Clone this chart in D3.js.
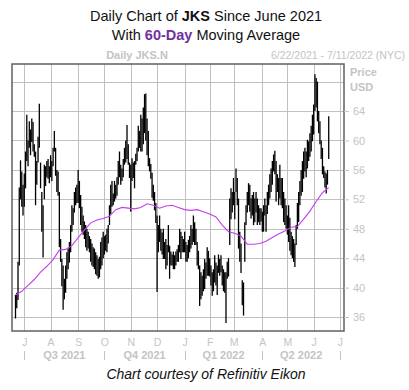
<!DOCTYPE html>
<html><head><meta charset="utf-8">
<script src="https://cdn.jsdelivr.net/npm/d3@7"></script>
<style>body{margin:0;background:#fff;} svg{display:block;}</style>
</head><body><svg id="c" width="409" height="390"></svg>
<script>
// ---- data ----
const highs = [
39.0,39.3,43.5,53.6,57.3,55.8,54.0,55.5,58.5,63.5,
60.0,62.6,61.5,63.0,62.5,59.5,58.5,57.2,60.5,65.0,
57.0,53.0,51.2,56.7,56.5,57.2,57.5,56.5,58.0,57.2,
59.0,61.3,59.0,56.0,55.8,53.0,46.6,43.9,43.0,41.2,
43.0,44.8,45.3,46.2,48.5,51.2,50.8,53.0,53.6,54.0,
56.0,54.5,52.6,51.0,49.8,49.0,48.5,48.0,47.6,47.0,
46.6,46.0,45.5,45.3,44.8,44.4,43.9,44.2,46.2,46.8,
47.6,47.0,47.2,48.0,48.5,51.2,54.0,54.5,52.8,54.5,
54.0,55.0,57.2,58.5,56.7,56.2,57.5,59.0,60.0,62.1,
59.5,57.0,56.7,57.6,57.0,57.2,58.2,59.0,62.0,61.3,
63.5,63.0,64.5,66.3,66.4,63.0,61.3,57.6,56.8,55.6,
54.0,53.0,51.5,49.8,48.5,49.8,48.0,47.5,48.0,46.2,
46.6,45.8,48.5,45.7,44.9,44.5,44.9,44.4,44.9,45.2,
45.8,48.0,47.6,47.0,46.6,47.6,46.2,45.8,46.5,47.0,
48.5,48.0,49.8,48.9,48.0,46.2,45.0,43.0,42.1,41.6,
42.5,43.9,43.4,45.5,45.0,44.0,43.0,42.1,42.5,44.4,
43.4,43.0,44.5,43.9,44.4,43.0,42.5,42.1,42.1,43.5,
44.0,52.1,53.5,53.0,54.9,53.0,56.2,54.9,52.1,47.6,
46.0,41.0,40.7,48.9,51.2,53.0,54.2,54.0,52.1,52.6,
53.0,52.1,53.0,52.1,51.2,50.8,50.8,50.3,51.2,52.1,
51.2,53.0,54.0,55.4,56.2,57.2,58.1,58.6,57.2,55.4,
54.9,56.7,54.9,54.9,53.0,52.1,51.2,49.8,51.2,49.5,
47.6,47.0,46.6,46.0,48.5,51.5,53.0,54.5,56.0,57.2,
58.5,59.0,58.5,60.1,59.9,61.0,62.0,63.5,64.9,69.0,
68.5,68.0,64.0,62.6,60.0,59.0,56.5,55.8,55.5,56.0,
63.3];
const lows = [
35.8,37.2,38.3,43.0,52.0,51.0,49.8,51.0,53.5,57.2,
56.5,59.0,58.0,59.8,58.5,57.8,51.2,54.0,57.0,59.0,
53.5,47.6,44.1,52.0,53.8,55.0,54.8,54.2,55.0,54.5,
56.5,58.5,55.2,53.0,52.5,45.5,43.5,40.2,37.0,38.4,
39.3,41.2,42.5,43.4,44.8,47.6,48.5,50.2,51.2,51.5,
51.5,50.8,48.5,47.6,47.2,46.6,45.5,45.0,45.3,44.8,
43.5,43.0,42.8,42.5,41.8,41.6,41.2,41.4,42.5,43.0,
44.0,44.5,45.0,44.8,46.0,48.5,50.0,51.0,51.2,51.7,
52.1,52.5,54.0,55.0,54.0,54.5,55.0,56.7,57.0,57.5,
56.7,54.9,50.3,54.5,54.9,53.5,56.7,57.2,58.5,59.0,
58.5,58.5,59.5,61.0,60.0,58.0,56.5,55.8,54.8,52.2,
51.8,50.5,48.8,39.4,44.8,46.2,45.0,44.5,43.9,43.9,
42.5,43.0,44.8,41.2,43.0,43.0,42.5,42.5,43.0,43.5,
43.5,44.8,43.9,44.8,44.8,44.8,43.5,43.5,44.0,44.8,
45.3,45.8,46.2,45.8,45.8,43.0,42.5,37.5,38.4,38.9,
39.5,39.8,41.2,41.6,41.6,41.5,40.3,38.9,39.5,40.7,
40.3,39.0,42.0,41.6,42.1,40.3,39.5,39.3,35.2,41.2,
41.5,45.8,49.3,50.2,51.2,49.3,53.0,51.2,45.3,43.5,
42.0,37.6,36.2,43.5,48.5,50.2,51.2,50.3,49.4,49.8,
48.5,48.9,50.2,48.5,48.9,48.5,49.0,47.6,47.6,49.8,
47.6,50.0,51.2,52.1,53.0,54.0,55.8,55.4,51.7,53.0,
51.2,52.1,51.2,50.8,48.9,48.5,48.0,47.2,46.2,45.0,
44.4,44.0,43.5,42.8,45.8,48.0,48.9,51.2,52.5,53.0,
54.8,55.8,55.0,56.2,57.2,57.8,58.5,59.9,60.8,64.0,
64.5,62.6,61.0,59.5,57.5,55.4,54.9,53.6,52.8,54.0,
57.5];
// 60-day moving average, one reading every 5 trading days
const maStep = 5;
const maValues = [39.0,39.5,40.3,41.1,42.1,42.9,43.8,45.1,45.2,45.7,
46.8,47.8,48.8,49.2,49.4,49.7,50.6,50.9,50.8,50.7,
50.9,51.4,51.2,50.8,51.1,51.2,50.9,50.6,50.5,50.6,
50.3,50.0,49.6,48.5,47.6,47.4,47.0,45.9,45.9,46.0,
46.3,46.8,47.3,47.7,48.2,48.3,49.3,50.4,51.7,52.9,53.6];
const startDate = "2021-06-22", endDate = "2022-07-11";
const holidays = ["2021-07-05","2021-09-06","2021-11-25","2021-12-24","2022-01-17",
                  "2022-02-21","2022-04-15","2022-05-30","2022-06-20","2022-07-04"];
const monthLabels = ["J","A","S","O","N","D","J","F","M","A","M","J","J"];
const quarterLabels = ["Q3 2021","Q4 2021","Q1 2022","Q2 2022"];
const priceTicks = [36,40,44,48,52,56,60,64];
const gridPrices = [36,40,44,48,52,56,60,64,68];

// ---- trading calendar ----
const parse = d3.timeParse("%Y-%m-%d"), fmt = d3.timeFormat("%Y-%m-%d");
const days = d3.timeDay.range(parse(startDate), d3.timeDay.offset(parse(endDate), 1))
  .filter(d => d.getDay() !== 0 && d.getDay() !== 6 && !holidays.includes(fmt(d)));
const monthStarts = [];
days.forEach((d, i) => { if (i > 0 && d.getMonth() !== days[i-1].getMonth()) monthStarts.push(i); });
const quarterStarts = monthStarts.filter(i => days[i].getMonth() % 3 === 0);

// ---- layout ----
const L = 12, R = 344, T = 64, B = 331;
const x = d3.scaleLinear().domain([-2.8, 262.2]).range([L, R]);
const y = d3.scaleLinear().domain([34.1, 70.4]).range([B, T]);
const gray = "#c4c4c4";
const svg = d3.select("#c");

// titles
const t1 = svg.append("text").attr("x", 206).attr("y", 21).attr("text-anchor", "middle")
  .style("font-family", "Liberation Sans, Arial, sans-serif").style("font-size", "14.5px").attr("fill", "#111");
t1.append("tspan").text("Daily Chart of ");
t1.append("tspan").attr("font-weight", "bold").text("JKS");
t1.append("tspan").text(" Since June 2021");
const t2 = svg.append("text").attr("x", 206).attr("y", 39.5).attr("text-anchor", "middle")
  .style("font-family", "Liberation Sans, Arial, sans-serif").style("font-size", "14.5px").attr("fill", "#111");
t2.append("tspan").text("With ");
t2.append("tspan").attr("font-weight", "bold").attr("fill", "#7030a0").text("60-Day");
t2.append("tspan").text(" Moving Average");

svg.append("text").attr("x", 137).attr("y", 59).attr("text-anchor", "middle")
  .style("font-family", "Liberation Sans, Arial, sans-serif").style("font-size", "11px")
  .attr("font-weight", "bold").attr("fill", gray).text("Daily JKS.N");
svg.append("text").attr("x", 405).attr("y", 59).attr("text-anchor", "end")
  .style("font-family", "Liberation Sans, Arial, sans-serif").style("font-size", "10.5px")
  .attr("fill", gray).text("6/22/2021 - 7/11/2022 (NYC)");

// grid
const grid = svg.append("g").attr("stroke", "#c0c0c0").attr("stroke-width", 1);
grid.selectAll("line.h").data(gridPrices).join("line")
  .attr("x1", L).attr("x2", R).attr("y1", d => Math.round(y(d)) + 0.5).attr("y2", d => Math.round(y(d)) + 0.5);
grid.selectAll("line.v").data(monthStarts).join("line")
  .attr("y1", T).attr("y2", B).attr("x1", d => Math.round(x(d)) + 0.5).attr("x2", d => Math.round(x(d)) + 0.5);

// bars
svg.append("g").attr("stroke", "#000").attr("stroke-width", 1.3)
  .selectAll("line").data(highs.map((h, i) => ({i, h, l: lows[i]}))).join("line")
  .attr("x1", d => x(d.i)).attr("x2", d => x(d.i))
  .attr("y1", d => y(d.h)).attr("y2", d => y(d.l));

// moving average
svg.append("path").datum(maValues)
  .attr("fill", "none").attr("stroke", "#c63cf0").attr("stroke-width", 1.1)
  .attr("d", d3.line().x((d, k) => x(k * maStep)).y(d => y(d)));

// frame
svg.append("rect").attr("x", L).attr("y", T).attr("width", R - L).attr("height", B - T)
  .attr("fill", "none").attr("stroke", "#606060").attr("stroke-width", 1.5);

// right axis
const ax = svg.append("g").attr("transform", `translate(${R},0)`)
  .call(d3.axisRight(y).tickValues(priceTicks).tickSize(5).tickPadding(4));
ax.select(".domain").remove();
ax.selectAll("line").attr("stroke", gray);
ax.selectAll("text").attr("fill", gray)
  .style("font-family", "Liberation Sans, Arial, sans-serif").style("font-size", "11px");
svg.append("text").attr("x", 350).attr("y", 76).attr("font-weight", "bold").attr("fill", gray)
  .style("font-family", "Liberation Sans, Arial, sans-serif").style("font-size", "11px").text("Price");
svg.append("text").attr("x", 350).attr("y", 91).attr("font-weight", "bold").attr("fill", gray)
  .style("font-family", "Liberation Sans, Arial, sans-serif").style("font-size", "11px").text("USD");

// month labels
svg.append("g").selectAll("text").data(monthStarts).join("text")
  .attr("x", d => x(d) + 0.5).attr("y", 346).attr("text-anchor", "middle").attr("fill", gray)
  .style("font-family", "Liberation Sans, Arial, sans-serif").style("font-size", "10.5px")
  .text((d, k) => monthLabels[k]);
// quarter separators and labels
svg.append("g").selectAll("line").data(quarterStarts).join("line")
  .attr("x1", d => Math.round(x(d)) + 0.5).attr("x2", d => Math.round(x(d)) + 0.5)
  .attr("y1", 351).attr("y2", 360).attr("stroke", gray);
svg.append("g").selectAll("text").data(quarterLabels).join("text")
  .attr("x", (d, k) => (x(quarterStarts[k]) + x(quarterStarts[k + 1])) / 2).attr("y", 359)
  .attr("text-anchor", "middle").attr("font-weight", "bold").attr("fill", gray)
  .style("font-family", "Liberation Sans, Arial, sans-serif").style("font-size", "11px")
  .text(d => d);

// footer
svg.append("text").attr("x", 206).attr("y", 379).attr("text-anchor", "middle")
  .style("font-family", "Liberation Sans, Arial, sans-serif").style("font-size", "14px")
  .attr("font-style", "italic").attr("fill", "#111").text("Chart courtesy of Refinitiv Eikon");
</script></body></html>
